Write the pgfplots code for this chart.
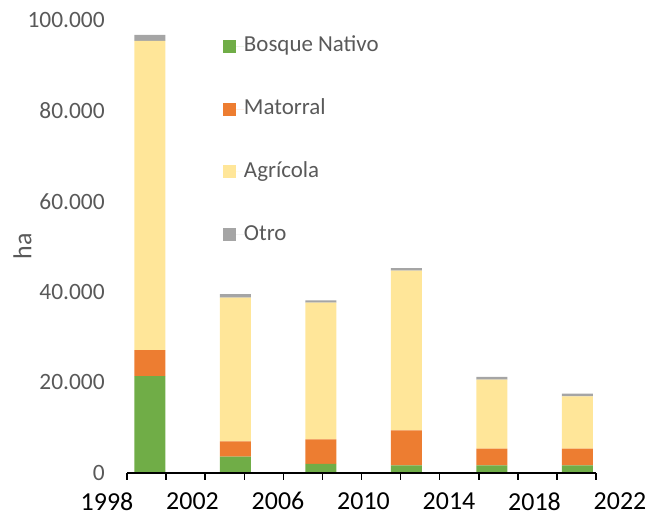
\documentclass[border=0pt]{standalone}
\usepackage{fontspec}
\setmainfont{Carlito}
\usepackage{pgfplots}
\usepackage{pgfplotstable}
\pgfplotsset{compat=1.18}

\definecolor{cBosque}{HTML}{70AD47}
\definecolor{cMatorral}{HTML}{ED7D31}
\definecolor{cAgricola}{HTML}{FFE699}
\definecolor{cOtro}{HTML}{A5A5A5}
\definecolor{txtgray}{HTML}{595959}

% superficie por uso de suelo (ha)
\pgfplotstableread{
year bosque matorral agricola otro
2000 21400 5700 68300 1300
2004 3600 3400 31700 800
2008 2000 5400 30200 500
2012 1700 7700 35300 500
2016 1700 3700 15200 600
2020 1700 3700 11500 600
}\landuse

\begin{document}
\begin{tikzpicture}
\path[use as bounding box] (0,0) rectangle (648bp,-516bp);
\begin{axis}[
  at={(107bp,-473bp)}, anchor=south west,
  scale only axis, width=513bp, height=453bp,
  xmin=1998, xmax=2022, ymin=0, ymax=100000,
  axis lines=left, axis line style={draw=none,-},
  tick style={draw=none},
  xtick={1998,2002,...,2022},
  xticklabels={1998,2002,2006,2010,2014,2018,2022},
  xticklabel style={font=\fontsize{26}{30}\selectfont, text=black,
    inner sep=0pt, anchor=north, yshift=-17bp},
  ytick={0,20000,...,100000},
  scaled y ticks=false,
  yticklabel style={font=\fontsize{23.5}{28}\selectfont, text=txtgray,
    inner sep=0pt, anchor=east,
    /pgf/number format/.cd, fixed, precision=0, 1000 sep={.}, assume math mode=true},
  ylabel={ha},
  ylabel style={font=\fontsize{26}{30}\selectfont, text=txtgray,
    at={(axis description cs:-0.1647,0.5)}, anchor=center},
  ybar stacked, bar width=31bp,
  clip=false,
  legend cell align=left,
  legend image code/.code={\fill[#1] (0bp,-6.5bp) rectangle (13bp,6.5bp);
    \path (0bp,0bp) -- (21bp,0bp);},
  legend style={at={(axis description cs:0.2261,0.9669)}, anchor=north west,
    draw=none, fill=none, inner sep=0pt, outer sep=0pt,
    font=\fontsize{23}{27}\selectfont, text=txtgray, row sep=39.7bp,
    nodes={inner sep=0pt, text height=17bp, text depth=6bp}},
]
\addplot[fill=cBosque, draw=none] table[x=year, y=bosque] {\landuse};
\addlegendentry{Bosque Nativo}
\addplot[fill=cMatorral, draw=none] table[x=year, y=matorral] {\landuse};
\addlegendentry{Matorral}
\addplot[fill=cAgricola, draw=none] table[x=year, y=agricola] {\landuse};
\addlegendentry{Agrícola}
\addplot[fill=cOtro, draw=none] table[x=year, y=otro] {\landuse};
\addlegendentry{Otro}
\end{axis}
% eje x con sus marcas
\draw[line width=1.5bp] (127bp,-473bp) -- (596bp,-473bp);
\foreach \i in {0,...,12}
  \draw[line width=1.5bp] ({127bp+\i*39.0833bp},-473bp) -- ++(0,-7bp);
\end{tikzpicture}
\end{document}
